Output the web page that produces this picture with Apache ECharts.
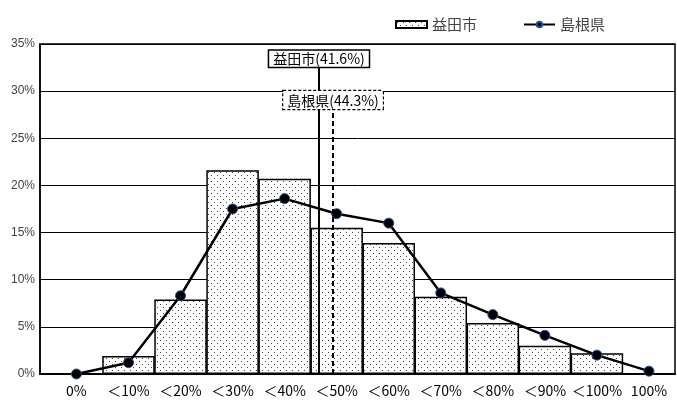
<!DOCTYPE html>
<html>
<head>
<meta charset="utf-8">
<script src="https://cdn.jsdelivr.net/npm/echarts@6/dist/echarts.min.js"></script>
<style>
  html, body { margin: 0; padding: 0; background: #fff; }
  #chart { width: 677px; height: 406px; }
</style>
</head>
<body>
<div id="chart"></div>
<script>
// Share of households by ratio band (%), 益田市 vs 島根県
const categories = ['0%', '＜10%', '＜20%', '＜30%', '＜40%', '＜50%', '＜60%', '＜70%', '＜80%', '＜90%', '＜100%', '100%'];
const masudaValues = [null, 1.9, 7.9, 21.6, 20.7, 15.5, 13.9, 8.2, 5.4, 3.0, 2.2, null];
const shimaneValues = [0, 1.2, 8.3, 17.5, 18.6, 17.0, 16.0, 8.6, 6.3, 4.1, 2.0, 0.3];
const seriesNames = ['益田市', '島根県'];
const averages = [41.6, 44.3];

// Position of a percentage on the band axis: band i covers (i-1)*10 .. i*10
const pctToAxis = p => p / 10 + 0.5;

// Dotted fill for the bars
function dotPattern() {
  const c = document.createElement('canvas');
  c.width = 6; c.height = 6;
  const g = c.getContext('2d');
  g.fillStyle = '#fff';
  g.fillRect(0, 0, 6, 6);
  g.fillStyle = '#444';
  g.fillRect(1, 1, 1, 1);
  g.fillRect(4, 4, 1, 1);
  return c;
}
const pattern = { image: dotPattern(), repeat: 'repeat' };

const barData = masudaValues.map((v, i) => [i, v]).filter(d => d[1] !== null);
const lineData = shimaneValues.map((v, i) => [i, v]);

const FONT = '"Noto Sans CJK JP", "Noto Sans", sans-serif';

const chart = echarts.init(document.getElementById('chart'), null, { renderer: 'canvas' });
chart.setOption({
  animation: false,
  backgroundColor: '#fff',
  textStyle: { fontFamily: FONT },
  legend: {
    left: 390,
    top: 12,
    itemGap: 46,
    itemWidth: 31,
    itemHeight: 7,
    textStyle: { fontSize: 15, color: '#444', fontFamily: FONT },
    data: [
      { name: seriesNames[0], icon: 'rect' },
      { name: seriesNames[1] }
    ]
  },
  grid: {
    left: 40, right: 2, top: 44, bottom: 32,
    show: true, borderColor: '#000', borderWidth: 1.5, backgroundColor: 'transparent'
  },
  xAxis: {
    type: 'value',
    min: -0.7,
    max: 11.5,
    splitLine: { show: false },
    axisLine: { show: true, onZero: false, lineStyle: { color: '#000', width: 2 } },
    axisTick: { show: false },
    axisLabel: {
      customValues: categories.map((c, i) => i),
      formatter: v => categories[Math.round(v)],
      color: '#000',
      fontSize: 14,
      margin: 10,
      fontFamily: FONT
    }
  },
  yAxis: {
    type: 'value',
    min: 0,
    max: 35,
    interval: 5,
    axisLine: { show: true, onZero: false, lineStyle: { color: '#000', width: 1.5 } },
    axisTick: { show: false },
    splitLine: { show: true, lineStyle: { color: '#000', width: 1 } },
    axisLabel: {
      formatter: v => v + '%',
      color: '#444',
      fontSize: 12,
      margin: 5,
      fontFamily: '"Liberation Sans Narrow", "Liberation Sans", sans-serif'
    }
  },
  series: [
    {
      name: seriesNames[0],
      type: 'bar',
      barWidth: 52.5,
      data: barData,
      itemStyle: { color: pattern, borderColor: '#000', borderWidth: 1.5 },
      z: 2
    },
    {
      name: seriesNames[1],
      type: 'line',
      data: lineData,
      symbol: 'circle',
      symbolSize: 10,
      lineStyle: { color: '#000', width: 2.5 },
      itemStyle: { color: '#000', borderColor: '#2b4f95', borderWidth: 1 },
      z: 4
    },
    {
      // average markers drawn as vertical reference lines with boxed labels
      name: 'averages',
      type: 'line',
      data: [],
      z: 3,
      markLine: {
        silent: true,
        symbol: 'none',
        animation: false,
        data: [
          [
            {
              coord: [pctToAxis(averages[0]), 0],
              lineStyle: { color: '#000', width: 2, type: 'solid' },
              label: {
                show: true, position: 'end', distance: 0,
                formatter: seriesNames[0] + '(' + averages[0].toFixed(1) + '%)',
                color: '#000', fontSize: 14, fontFamily: FONT, lineHeight: 15,
                backgroundColor: '#fff', borderColor: '#000', borderWidth: 1.5,
                padding: [1, 4, 0, 4]
              }
            },
            { coord: [pctToAxis(averages[0]), 32.6] }
          ],
          [
            {
              coord: [pctToAxis(averages[1]), 0],
              lineStyle: { color: '#000', width: 2, type: [5, 3] },
              label: {
                show: true, position: 'end', distance: 0,
                formatter: seriesNames[1] + '(' + averages[1].toFixed(1) + '%)',
                color: '#000', fontSize: 14, fontFamily: FONT, lineHeight: 15,
                backgroundColor: '#fff', borderColor: '#000', borderWidth: 1.2,
                borderType: [3, 2],
                padding: [2, 4, 1, 4]
              }
            },
            { coord: [pctToAxis(averages[1]), 28.1] }
          ]
        ]
      }
    }
  ]
});
</script>
</body>
</html>
